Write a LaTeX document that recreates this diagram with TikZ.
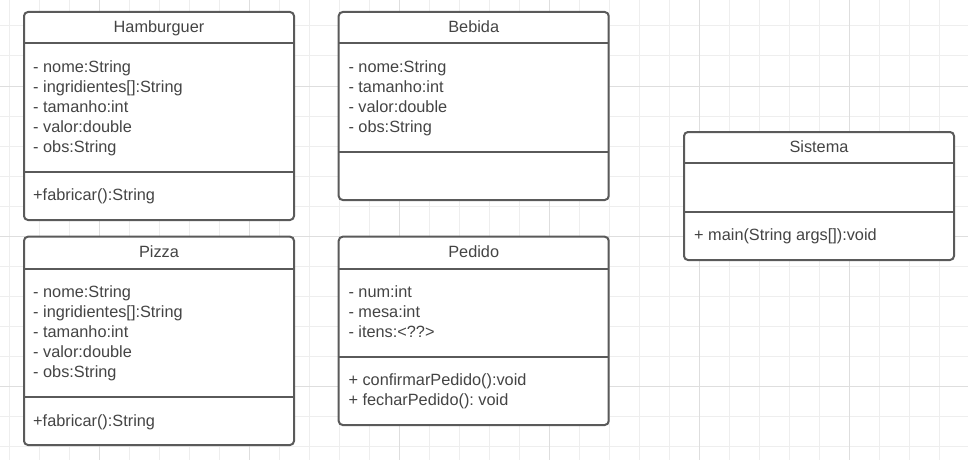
\documentclass[tikz,border=0pt]{standalone}
\usepackage{fontspec}
\setmainfont{Liberation Sans}
\usepackage{xcolor}
\usetikzlibrary{positioning,calc}
\frenchspacing

\definecolor{boxgray}{HTML}{5A5A5A}
\definecolor{textgray}{HTML}{444444}
\definecolor{minorgray}{HTML}{EEEEEE}
\definecolor{majorgray}{HTML}{DEDEDE}

\tikzset{
    classbox/.style={draw=boxgray, line width=2pt, rounded corners=4pt, fill=white,
        anchor=north west, inner sep=0pt, outer sep=0pt, minimum width=270pt},
    sepline/.style={draw=boxgray, line width=2pt},
    classtitle/.style={anchor=base, inner sep=0pt, text=textgray},
    member/.style={anchor=base west, inner sep=0pt, text=textgray},
    minorgrid/.style={draw=minorgray, line width=1pt},
    majorgrid/.style={draw=majorgray, line width=1pt}
}

\begin{document}
\begin{tikzpicture}[x=1pt, y=-1pt, font=\fontsize{16.3}{20}\selectfont]
    \useasboundingbox (0,0) rectangle (968,460);
    \fill[white] (0,0) rectangle (968,460);

    % Background grid
    \foreach \gx in {0,...,32}
        \draw[minorgrid] ({9.3+30*\gx},0) -- ({9.3+30*\gx},460);
    \foreach \gy in {0,...,14}
        \draw[minorgrid] (0,{26+30*\gy}) -- (968,{26+30*\gy});
    \foreach \gx in {99.3,249.3,399.3,549.3,699.3,849.3}
        \draw[majorgrid] (\gx,0) -- (\gx,460);
    \foreach \gy in {86,236,386}
        \draw[majorgrid] (0,\gy) -- (968,\gy);

    % Hamburguer
    \node[classbox, minimum height=208pt] (hamb) at (24,12) {};
    \draw[sepline] (hamb.west |- 0,43.3) -- (hamb.east |- 0,43.3);
    \draw[sepline] (hamb.west |- 0,172.3) -- (hamb.east |- 0,172.3);
    \node[classtitle] (hamb-title) at (159,32.5) {Hamburguer};
    \foreach \txt [count=\i] in {- nome:String, - ingridientes[]:String, - tamanho:int, - valor:double, - obs:String}
        \node[member] (hamb-a\i) at (33,{52.5+20*\i}) {\txt};
    \node[member] (hamb-m1) at (33,200.5) {+fabricar():String};

    % Bebida
    \node[classbox, minimum height=188pt] (bebida) at (338.7,12) {};
    \draw[sepline] (bebida.west |- 0,43.3) -- (bebida.east |- 0,43.3);
    \draw[sepline] (bebida.west |- 0,152) -- (bebida.east |- 0,152);
    \node[classtitle] (bebida-title) at (473.7,32.5) {Bebida};
    \foreach \txt [count=\i] in {- nome:String, - tamanho:int, - valor:double, - obs:String}
        \node[member] (bebida-a\i) at (348.3,{52.5+20*\i}) {\txt};

    % Sistema
    \node[classbox, minimum height=128pt] (sistema) at (684,132) {};
    \draw[sepline] (sistema.west |- 0,163.3) -- (sistema.east |- 0,163.3);
    \draw[sepline] (sistema.west |- 0,211.7) -- (sistema.east |- 0,211.7);
    \node[classtitle] (sistema-title) at (819,152.5) {Sistema};
    \node[member] (sistema-m1) at (694,240.8) {+ main(String args[]):void};

    % Pizza
    \node[classbox, minimum height=208.3pt] (pizza) at (24,236.7) {};
    \draw[sepline] (pizza.west |- 0,268.7) -- (pizza.east |- 0,268.7);
    \draw[sepline] (pizza.west |- 0,396.7) -- (pizza.east |- 0,396.7);
    \node[classtitle] (pizza-title) at (159,257.2) {Pizza};
    \foreach \txt [count=\i] in {- nome:String, - ingridientes[]:String, - tamanho:int, - valor:double, - obs:String}
        \node[member] (pizza-a\i) at (33,{277.5+20*\i}) {\txt};
    \node[member] (pizza-m1) at (33,426) {+fabricar():String};

    % Pedido
    \node[classbox, minimum height=188.3pt] (pedido) at (338.7,236.7) {};
    \draw[sepline] (pedido.west |- 0,268.7) -- (pedido.east |- 0,268.7);
    \draw[sepline] (pedido.west |- 0,357) -- (pedido.east |- 0,357);
    \node[classtitle] (pedido-title) at (473.7,257.2) {Pedido};
    \foreach \txt [count=\i] in {- num:int, - mesa:int, - itens:<??>}
        \node[member] (pedido-a\i) at (348.3,{277.5+20*\i}) {\txt};
    \node[member] (pedido-m1) at (348.3,385.5) {+ confirmarPedido():void};
    \node[member] (pedido-m2) at (348.3,405.5) {+ fecharPedido(): void};
\end{tikzpicture}
\end{document}
